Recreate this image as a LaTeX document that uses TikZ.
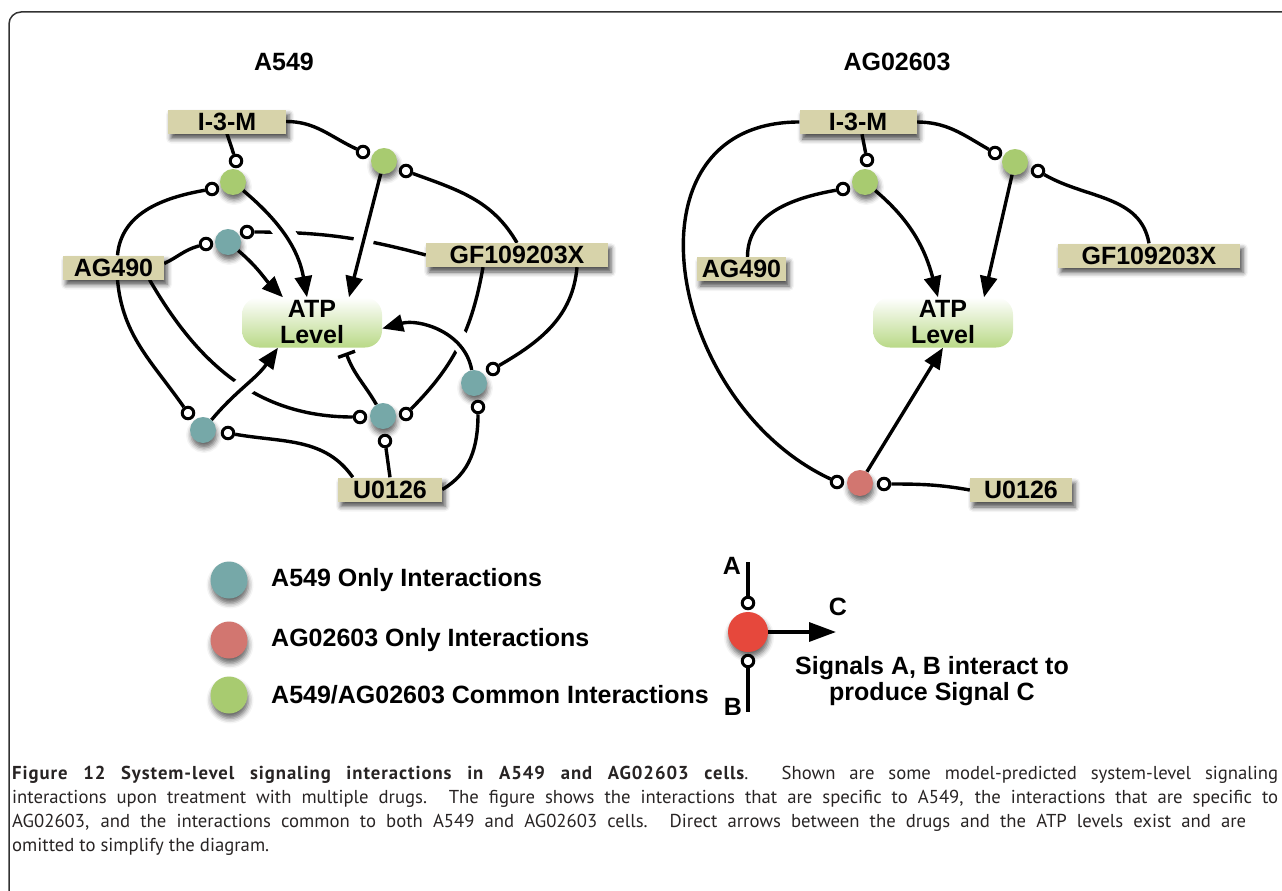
\documentclass[tikz,border=0pt]{standalone}
\usepackage{fontspec}
\setmainfont{Liberation Sans}
\newfontfamily\capfont{PT Sans}
\usetikzlibrary{arrows.meta,shadows.blur}
\pgfdeclarelayer{lines}
\pgfdeclarelayer{halo}
\pgfdeclarelayer{arrows}
\pgfsetlayers{lines,halo,arrows,main}
\definecolor{tanc}{RGB}{215,211,170}
\definecolor{tealc}{RGB}{118,168,168}
\definecolor{greenc}{RGB}{168,203,112}
\definecolor{pinkc}{RGB}{210,118,112}
\definecolor{redk}{RGB}{230,72,60}
\definecolor{atpg}{RGB}{185,217,135}
\definecolor{framec}{RGB}{50,50,50}
\definecolor{capc}{RGB}{40,36,36}
\newcommand\labfont{\bfseries\fontsize{25}{26}\selectfont}
\tikzset{
 conn/.style={line width=3.4pt, black},
 act/.style={line width=3.4pt, -{Triangle[length=21pt,width=17pt]}},
 inh/.style={line width=3.4pt, -{Bar[width=18pt]}},
 halo/.style={draw=white, line width=20pt, shorten <=14pt, shorten >=22pt},
 drug/.style={rectangle, fill=tanc, minimum height=24pt, inner sep=0pt, font=\labfont,
   blur shadow={shadow xshift=3pt,shadow yshift=-5pt,shadow blur radius=5pt,shadow opacity=70}},
 atp/.style={rectangle, rounded corners=17pt, minimum width=140pt, minimum height=50pt, inner sep=0pt,
   align=center, top color=white, bottom color=atpg, font=\labfont},
 dot/.style={circle, minimum size=26pt, inner sep=0pt,
   blur shadow={shadow xshift=1pt, shadow yshift=-5pt, shadow blur radius=5pt, shadow opacity=60}},
 oc/.style={circle, draw, line width=3pt, fill=white, minimum size=11.5pt, inner sep=0pt},
 captext/.style={anchor=base west, inner sep=0pt, text=capc, font=\capfont\fontsize{18.7}{20}\selectfont},
}
\begin{document}
\begin{tikzpicture}[x=1pt,y=1pt]
\useasboundingbox (0,0) rectangle (1282,-891);
\draw[line width=1.5pt, framec, rounded corners=12pt] (9,-900) -- (9,-12) -- (1290,-12);

% titles
\node[font=\labfont] (tA) at (284,-62) {A549};
\node[font=\labfont] (tB) at (897,-62) {AG02603};

% ---------- left panel nodes
\node[drug, minimum width=118pt] (I3M_L) at (227,-121.5) {I-3-M};
\node[drug, minimum width=101pt] (AG_L) at (113.5,-267.5) {AG490};
\node[drug, minimum width=182pt] (GF_L) at (517,-255) {GF109203X};
\node[drug, minimum width=104pt] (U_L) at (390,-489.5) {U0126};
\node[atp] (ATP_L) at (312,-322.5) {ATP\\Level};

\node[dot, fill=greenc] (g1) at (233,-182) {};
\node[oc] (g1t) at (236,-161) {};
\node[oc] (g1l) at (212,-189) {};
\node[dot, fill=tealc] (t1) at (228,-242) {};
\node[oc] (t1l) at (206,-244) {};
\node[oc] (t1r) at (247,-232) {};
\node[dot, fill=greenc] (g2) at (384,-161) {};
\node[oc] (g2l) at (363,-152) {};
\node[oc] (g2r) at (406,-171) {};
\node[dot, fill=tealc] (t3) at (383,-416) {};
\node[oc] (t3l) at (360,-417) {};
\node[oc] (t3r) at (406,-414) {};
\node[oc] (t3b) at (385,-441) {};
\node[dot, fill=tealc] (t5) at (474,-383) {};
\node[oc] (t5r) at (493,-369) {};
\node[oc] (t5b) at (478,-407) {};
\node[dot, fill=tealc] (t4) at (203,-430) {};
\node[oc] (t4l) at (188,-413) {};
\node[oc] (t4r) at (228,-433) {};

% ---------- right panel nodes
\node[drug, minimum width=117pt] (I3M_R) at (858,-122) {I-3-M};
\node[drug, minimum width=89pt] (AG_R) at (741.5,-269) {AG490};
\node[drug, minimum width=182pt] (GF_R) at (1149,-255.5) {GF109203X};
\node[drug, minimum width=102pt] (U_R) at (1021,-490) {U0126};
\node[atp] (ATP_R) at (943,-322.5) {ATP\\Level};

\node[dot, fill=greenc] (gR1) at (865,-182) {};
\node[oc] (gR1t) at (867,-160) {};
\node[oc] (gR1l) at (843,-189) {};
\node[dot, fill=greenc] (gR2) at (1015,-162) {};
\node[oc] (gR2l) at (995,-153) {};
\node[oc] (gR2r) at (1038,-171) {};
\node[dot, fill=pinkc] (red) at (860,-483) {};
\node[oc] (redl) at (837,-482) {};
\node[oc] (redr) at (884,-484) {};

% ---------- legend
\node[dot, fill=tealc, minimum size=37pt] (l1) at (229,-580) {};
\node[dot, fill=pinkc, minimum size=37pt] (l2) at (229,-640) {};
\node[dot, fill=greenc, minimum size=37pt] (l3) at (229,-695) {};
\node[anchor=west, font=\labfont, inner sep=0pt] (lt1) at (271,-580) {A549 Only Interactions};
\node[anchor=west, font=\labfont, inner sep=0pt] (lt2) at (271,-640) {AG02603 Only Interactions};
\node[anchor=west, font=\labfont, inner sep=0pt] (lt3) at (271,-695) {A549/AG02603 Common Interactions};

\node[dot, fill=redk, minimum size=40pt] (kd) at (748,-632) {};
\node[oc] (ka) at (748,-603) {};
\node[oc] (kb) at (748,-661) {};
\coordinate (kat) at (748,-562);
\coordinate (kbb) at (748,-712);
\coordinate (kc) at (836,-632);
\node[font=\labfont] (kA) at (732,-566) {A};
\node[font=\labfont] (kB) at (733,-707) {B};
\node[font=\labfont] (kC) at (838,-607) {C};
\node[font=\labfont, align=center] (kt) at (932,-681) {Signals A, B interact to\\produce Signal C};

% ---------- caption
\node[captext] (cap1) at (12,-779) {\makebox[1266pt][s]{{\bfseries\addfontfeature{LetterSpace=5}Figure 12 System-level signaling interactions in A549 and AG02603 cells}. Shown are some model-predicted system-level signaling}};
\node[captext] (cap2) at (12,-803) {\makebox[1266pt][s]{interactions upon treatment with multiple drugs. The figure shows the interactions that are specific to A549, the interactions that are specific to}};
\node[captext] (cap3) at (12,-827) {\makebox[1234pt][s]{AG02603, and the interactions common to both A549 and AG02603 cells. Direct arrows between the drugs and the ATP levels exist and are}};
\node[captext] (cap4) at (12,-851) {omitted to simplify the diagram.};

% ---------- connectors
\begin{pgfonlayer}{lines}
\draw[conn] (I3M_L.south) -- (g1t);
\draw[conn] (I3M_L.east) to[out=0,in=155] (g2l);
\draw[conn] ([xshift=4pt]AG_L.north) to[out=85,in=190] (g1l);
\draw[conn] ([xshift=4pt]AG_L.south) to[out=-85,in=125] (t4l);
\draw[conn] ([yshift=4pt]AG_L.east) to[out=25,in=195] (t1l);
\draw[conn] ([xshift=36pt]AG_L.south) to[out=-60,in=180] (t3l);
\draw[conn] (GF_L.west) to[out=165,in=0] (t1r);
\draw[conn] (GF_L.north) to[out=120,in=-20] (g2r);
\draw[conn] ([xshift=-34pt]GF_L.south) to[out=-100,in=45] (t3r);
\draw[conn] ([xshift=60pt]GF_L.south) to[out=-95,in=30] (t5r);
\draw[conn] (U_L.north) -- (t3b);
\draw[conn] ([xshift=15pt]U_L.north west) to[out=125,in=-10] (t4r);
\draw[conn] (U_L.east) to[out=30,in=-90] (t5b);

\draw[conn] ([xshift=4pt]I3M_R.south) -- (gR1t);
\draw[conn] (I3M_R.east) to[out=0,in=150] (gR2l);
\draw[conn] ([xshift=6pt]AG_R.north) to[out=90,in=190] (gR1l);
\draw[conn] (GF_R.north) to[out=100,in=-30] (gR2r);
\draw[conn] (I3M_R.west) to[out=180,in=155,looseness=1.3] (redl);
\draw[conn] (U_R.west) to[out=170,in=0] (redr);

\draw[conn] (kat) -- (ka);
\draw[conn] (kb) -- (kbb);
\end{pgfonlayer}

\begin{pgfonlayer}{halo}
\draw[halo] (g1) to[out=-40,in=100] ([xshift=-5pt]ATP_L.north);
\draw[halo] (g2) -- ([xshift=37pt]ATP_L.north);
\draw[halo] (t4) to[out=50,in=-125] ([xshift=-34pt]ATP_L.south);
\draw[halo] (t5) to[out=100,in=15] ([yshift=-6pt]ATP_L.east);
\end{pgfonlayer}

\begin{pgfonlayer}{arrows}
\draw[act] (g1) to[out=-40,in=100] ([xshift=-5pt]ATP_L.north);
\draw[act] (g2) -- ([xshift=37pt]ATP_L.north);
\draw[act] (t1) to[out=-40,in=135] ([xshift=-29pt]ATP_L.north);
\draw[act] (t4) to[out=50,in=-125] ([xshift=-34pt]ATP_L.south);
\draw[inh] (t3) to[out=120,in=-70] ([xshift=34pt,yshift=-5pt]ATP_L.south);
\draw[act] (t5) to[out=100,in=15] ([yshift=-6pt]ATP_L.east);

\draw[act] (gR1) to[out=-40,in=105] ([xshift=-5pt]ATP_R.north);
\draw[act] (gR2) -- ([xshift=41pt]ATP_R.north);
\draw[act] (red) -- (ATP_R.south);

\draw[line width=3.4pt, -{Triangle[length=27pt,width=19pt]}] (kd) -- (kc);
\end{pgfonlayer}
\end{tikzpicture}
\end{document}
